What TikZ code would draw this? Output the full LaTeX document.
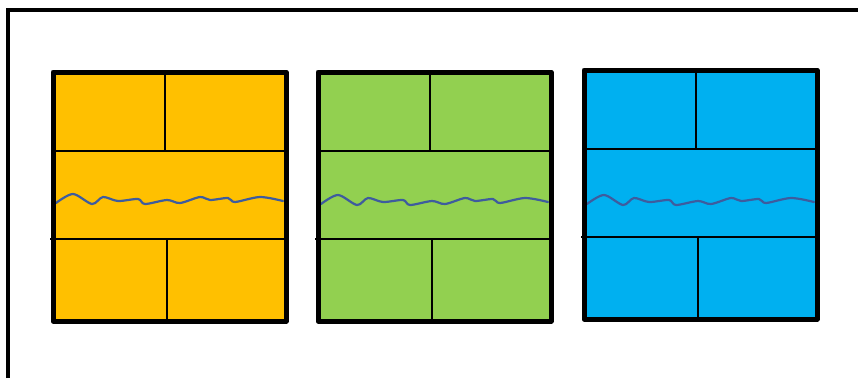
\documentclass[tikz,border=0pt]{standalone}
\definecolor{boxorange}{RGB}{255,192,0}
\definecolor{boxgreen}{RGB}{146,208,80}
\definecolor{boxblue}{RGB}{0,176,240}
\definecolor{wavecol}{RGB}{62,92,158}
\tikzset{
  frame/.style={line width=4.5pt},
  panel/.style={line width=5pt, line join=round},
  divider/.style={line width=1.6pt},
  wave/.style={wavecol, line width=2.2pt, line cap=round, line join=round}
}
\begin{document}
\begin{tikzpicture}[x=1pt,y=-1pt]
\useasboundingbox (0,0) rectangle (858,378);
% outer frame, cut off at right and bottom
\draw[frame] (8,378) -- (8,10) -- (858,10);
% three panels: left, top, fill, wave height
\foreach \x/\y/\c/\w in {53/72/boxorange/128, 318/72/boxgreen/129, 584/70/boxblue/131} {
  \begin{scope}[shift={(\x,\y)}]
    \fill[\c] (0,0) rectangle (233,249);
    \draw[divider] (0,79) -- (235,79);
    \draw[divider] (-3,167) -- (233,167);
    \draw[divider] (112,0) -- (112,79);
    \draw[divider] (114,167) -- (114,249);
    \begin{scope}[shift={(0,\w)}]
      \draw[wave] plot[smooth, tension=0.5] coordinates {(3,3) (20,-6) (39,4) (50,-3) (65,1) (85,-1) (92,4) (114,0) (127,3) (147,-3) (157,0) (175,-2) (182,2) (207,-3) (230,1)};
    \end{scope}
    \draw[panel] (0,0) rectangle (233,249);
  \end{scope}
}
\end{tikzpicture}
\end{document}
